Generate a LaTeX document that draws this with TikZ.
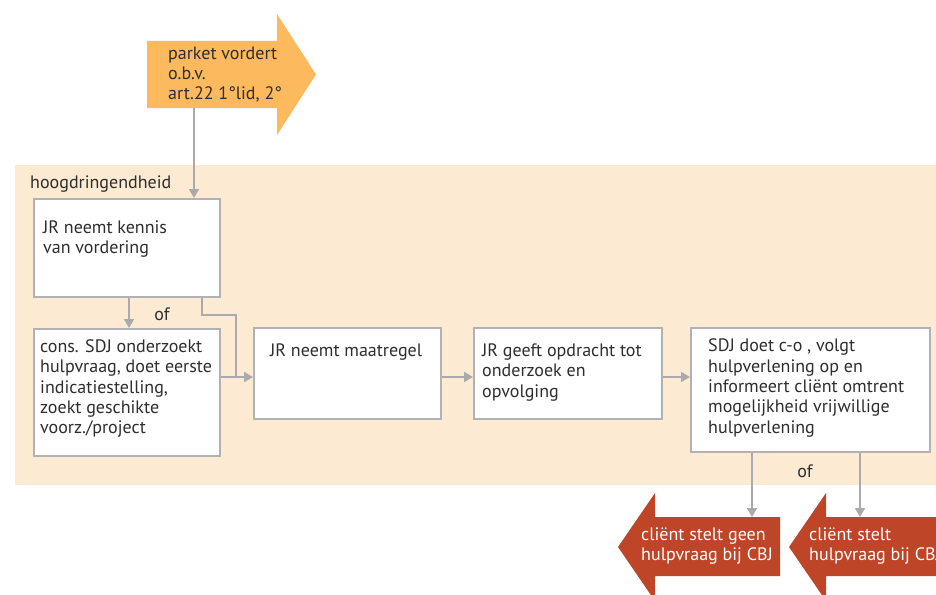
\documentclass[tikz,border=0pt]{standalone}
\usepackage{fontspec}
\setmainfont{PT Sans}
\usetikzlibrary{arrows.meta}
\definecolor{bandbg}{HTML}{FDEAD2}
\definecolor{startarrow}{HTML}{FDB95E}
\definecolor{endarrow}{HTML}{BE4527}
\definecolor{linegray}{HTML}{A9A9AE}
\definecolor{boxline}{HTML}{B2B2B6}
\definecolor{txt}{HTML}{2E2E2E}
\begin{document}
\begin{tikzpicture}[x=1pt,y=-1pt,
  every node/.style={font=\fontsize{18}{20.3}\selectfont, text=txt},
  stepbox/.style={draw=boxline, line width=1.6pt, fill=white, inner sep=0pt},
  boxtext/.style={anchor=west, align=left, inner sep=0pt},
  flow/.style={draw=linegray, line width=1.8pt, -{Triangle[length=9pt,width=10pt]}},
  plain/.style={draw=linegray, line width=1.8pt},
  whitetext/.style={anchor=west, align=left, inner sep=0pt, text=white}]
\useasboundingbox (0,0) rectangle (936,594);
\clip (0,0) rectangle (936,594);

% shaded urgency band
\fill[bandbg] (15,165) rectangle (936,485);
\node[anchor=west, inner sep=0pt] (band) at (30,184) {hoogdringendheid};

% prosecutor's claim arrow
\fill[startarrow] (147,41) -- (277,41) -- (277,14) -- (316,74.5) -- (277,135) -- (277,108) -- (147,108) -- cycle;
\coordinate (start) at (194,108);
\node[boxtext] (claim) at (168,74.5) {parket vordert\\o.b.v.\\art.22 1°lid, 2°};

% process boxes
\node[stepbox, minimum width=186pt, minimum height=98pt, anchor=north west] (b1) at (33,198) {};
\node[boxtext] (t1) at (43,239) {JR neemt kennis\\van vordering};

\node[stepbox, minimum width=186pt, minimum height=127pt, anchor=north west] (b2) at (33,328) {};
\node[boxtext] (t2) at (40,388.5) {cons. SDJ onderzoekt\\hulpvraag, doet eerste\\indicatiestelling,\\zoekt geschikte\\voorz./project};

\node[stepbox, minimum width=187pt, minimum height=91pt, anchor=north west] (b3) at (253,327) {};
\node[boxtext] (t3) at (270,352) {JR neemt maatregel};

\node[stepbox, minimum width=188pt, minimum height=91pt, anchor=north west] (b4) at (473,327) {};
\node[boxtext] (t4) at (482,372.5) {JR geeft opdracht tot\\onderzoek en\\opvolging};

\node[stepbox, minimum width=239pt, minimum height=124pt, anchor=north west] (b5) at (690,327) {};
\node[boxtext] (t5) at (708,388) {SDJ doet c-o , volgt\\hulpverlening op en\\informeert cliënt omtrent\\mogelijkheid vrijwillige\\hulpverlening};

% outcome arrows
\fill[endarrow] (780,517) -- (655,517) -- (655,493) -- (618,547) -- (655,601) -- (655,576) -- (780,576) -- cycle;
\node[whitetext] (o1) at (641,546) {cliënt stelt geen\\hulpvraag bij CBJ};
\fill[endarrow] (950,517) -- (826,517) -- (826,493) -- (789,547) -- (826,601) -- (826,576) -- (950,576) -- cycle;
\node[whitetext] (o2) at (809,546) {cliënt stelt\\hulpvraag bij CBJ};
\coordinate (o1top) at (752,517);
\coordinate (o2top) at (860,517);

% connectors
\draw[flow] (start) -- (start |- b1.north);
\draw[flow] (b1.south -| 129,0) -- (b2.north -| 129,0);
\node[inner sep=0pt] (of1) at (162,314) {of};
\draw[plain] (b1.south -| 202,0) -- (202,315) -- (236,315) -- (236,377);
\draw[flow] (b2.east |- 0,377) -- (b3.west |- 0,377);
\draw[flow] (b3.east |- 0,377) -- (b4.west |- 0,377);
\draw[flow] (b4.east |- 0,377) -- (b5.west |- 0,377);
\draw[flow] (b5.south -| o1top) -- (o1top);
\draw[flow] (b5.south -| o2top) -- (o2top);
\node[inner sep=0pt] (of2) at (805,471) {of};
\end{tikzpicture}
\end{document}
